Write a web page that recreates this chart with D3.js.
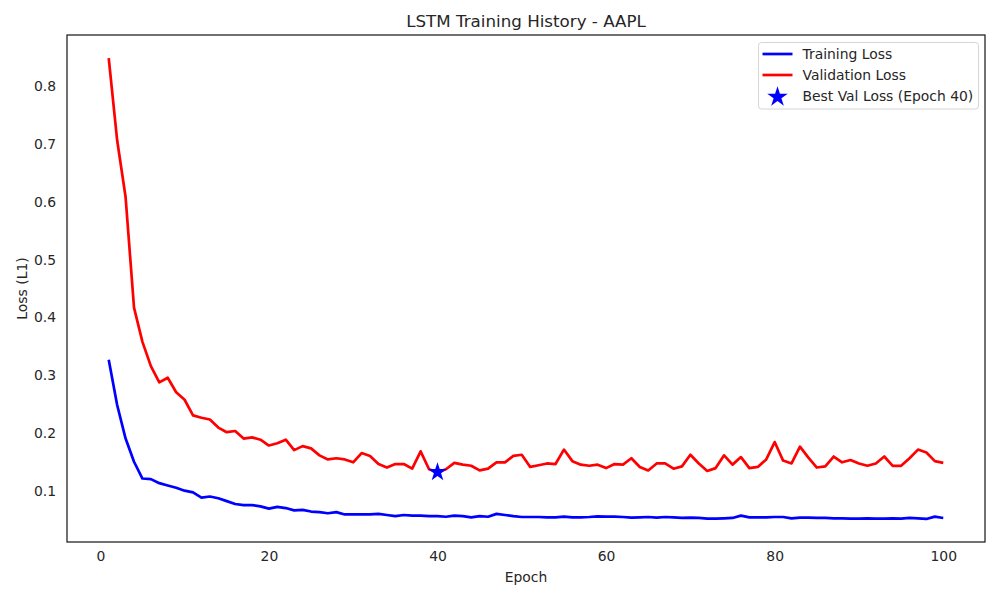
<!DOCTYPE html>
<html lang="en">
<head>
  <meta charset="UTF-8">
  <title>LSTM Training History - AAPL</title>
  <script src="https://d3js.org/d3.v7.min.js"></script>
  <style>
    body { margin: 0; background: #fff; font-family: "DejaVu Sans", sans-serif; }
    svg text { fill: #262626; }
    .tick text { font-size: 13.9px; font-family: "DejaVu Sans", sans-serif; }
    .axis .domain { display: none; }
  </style>
</head>
<body>
  <svg id="chart" width="1000" height="600"></svg>

  <script>
    const epochs = d3.range(1, 101);

    const trainLoss = [
      0.327, 0.249, 0.191, 0.151, 0.122, 0.121, 0.114, 0.110, 0.106, 0.101,
      0.098, 0.089, 0.091, 0.088, 0.083, 0.078, 0.076, 0.076, 0.074, 0.070,
      0.073, 0.071, 0.067, 0.068, 0.065, 0.064, 0.062, 0.064, 0.060, 0.060,
      0.060, 0.060, 0.061, 0.059, 0.057, 0.059, 0.058, 0.058, 0.057, 0.057,
      0.056, 0.058, 0.057, 0.055, 0.057, 0.056, 0.061, 0.059, 0.057, 0.0556,
      0.0556, 0.0556, 0.055, 0.055, 0.0562, 0.055, 0.055, 0.0556, 0.0568, 0.0562,
      0.0562, 0.0556, 0.0544, 0.055, 0.0556, 0.0544, 0.0556, 0.055, 0.0539, 0.0544,
      0.0539, 0.0527, 0.0527, 0.0533, 0.0539, 0.058, 0.055, 0.055, 0.055, 0.0556,
      0.0556, 0.0533, 0.0544, 0.0544, 0.0539, 0.0539, 0.0533, 0.0533, 0.0527, 0.0527,
      0.0533, 0.0527, 0.0527, 0.0533, 0.0527, 0.0539, 0.0533, 0.0522, 0.0562, 0.0539
    ];

    const valLoss = [
      0.848, 0.706, 0.608, 0.417, 0.358, 0.316, 0.288, 0.296, 0.271, 0.258,
      0.231, 0.227, 0.224, 0.210, 0.202, 0.204, 0.191, 0.193, 0.189, 0.179,
      0.183, 0.189, 0.171, 0.178, 0.174, 0.162, 0.155, 0.157, 0.155, 0.150,
      0.166, 0.161, 0.147, 0.141, 0.147, 0.147, 0.139, 0.169, 0.138, 0.133,
      0.138, 0.149, 0.146, 0.144, 0.136, 0.139, 0.150, 0.150, 0.161, 0.163,
      0.142, 0.145, 0.148, 0.147, 0.172, 0.152, 0.146, 0.144, 0.146, 0.140,
      0.147, 0.146, 0.157, 0.142, 0.136, 0.148, 0.148, 0.139, 0.143, 0.163,
      0.148, 0.135, 0.140, 0.162, 0.146, 0.159, 0.140, 0.142, 0.155, 0.185,
      0.153, 0.148, 0.177, 0.158, 0.141, 0.143, 0.160, 0.150, 0.154, 0.148,
      0.144, 0.148, 0.160, 0.144, 0.144, 0.157, 0.172, 0.167, 0.152, 0.149
    ];

    const xTicks = [0, 20, 40, 60, 80, 100];
    const yTicks = [0.1, 0.2, 0.3, 0.4, 0.5, 0.6, 0.7, 0.8];
    const legendLabels = ["Training Loss", "Validation Loss"];
    const bestLabel = "Best Val Loss (Epoch 40)";

    // best epoch = lowest validation loss
    const bestIdx = d3.minIndex(valLoss);
    const bestEpoch = epochs[bestIdx];

    const margin = { left: 67, right: 985, top: 35, bottom: 542 };
    const svg = d3.select("#chart");

    // matplotlib style 5% margins
    const xPad = (d3.max(epochs) - d3.min(epochs)) * 0.05;
    const allY = trainLoss.concat(valLoss);
    const yPad = (d3.max(allY) - d3.min(allY)) * 0.05;

    const x = d3.scaleLinear()
      .domain([d3.min(epochs) - xPad, d3.max(epochs) + xPad])
      .range([margin.left, margin.right]);
    const y = d3.scaleLinear()
      .domain([d3.min(allY) - yPad, d3.max(allY) + yPad])
      .range([margin.bottom, margin.top]);

    // axes (no tick marks, labels only)
    svg.append("g")
      .attr("class", "axis")
      .attr("transform", `translate(0,${margin.bottom})`)
      .call(d3.axisBottom(x).tickValues(xTicks).tickSize(0).tickPadding(9).tickFormat(d3.format("d")));

    svg.append("g")
      .attr("class", "axis")
      .attr("transform", `translate(${margin.left},0)`)
      .call(d3.axisLeft(y).tickValues(yTicks).tickSize(0).tickPadding(11).tickFormat(d3.format(".1f")));

    svg.selectAll(".tick text").style("fill", "#262626");

    // lines
    const line = (vals) => d3.line()
      .x((d, i) => x(epochs[i]))
      .y(d => y(d))(vals);

    svg.append("path")
      .attr("d", line(trainLoss))
      .attr("fill", "none")
      .attr("stroke", "#0000ff")
      .attr("stroke-width", 2.7)
      .attr("stroke-linejoin", "round");

    svg.append("path")
      .attr("d", line(valLoss))
      .attr("fill", "none")
      .attr("stroke", "#ff0000")
      .attr("stroke-width", 2.7)
      .attr("stroke-linejoin", "round");

    const star = d3.symbol().type(d3.symbolStar);

    svg.append("path")
      .attr("d", star.size(110)())
      .attr("transform", `translate(${x(bestEpoch)},${y(valLoss[bestIdx])})`)
      .attr("fill", "#0000ff");

    // frame
    svg.append("rect")
      .attr("x", margin.left)
      .attr("y", margin.top)
      .attr("width", margin.right - margin.left)
      .attr("height", margin.bottom - margin.top)
      .attr("fill", "none")
      .attr("stroke", "#262626")
      .attr("stroke-width", 1.3);

    // title + labels
    svg.append("text")
      .attr("x", (margin.left + margin.right) / 2)
      .attr("y", 27)
      .attr("text-anchor", "middle")
      .style("font-size", "16.7px")
      .text("LSTM Training History - AAPL");

    svg.append("text")
      .attr("x", (margin.left + margin.right) / 2)
      .attr("y", 582)
      .attr("text-anchor", "middle")
      .style("font-size", "13.9px")
      .text("Epoch");

    svg.append("text")
      .attr("transform", `translate(27,${(margin.top + margin.bottom) / 2}) rotate(-90)`)
      .attr("text-anchor", "middle")
      .style("font-size", "13.9px")
      .text("Loss (L1)");

    // legend
    const lg = svg.append("g").attr("transform", "translate(758.5,42.5)");
    lg.append("rect")
      .attr("width", 220)
      .attr("height", 66.5)
      .attr("rx", 3)
      .attr("fill", "#fff")
      .attr("fill-opacity", 0.8)
      .attr("stroke", "#d5d5d5")
      .attr("stroke-width", 1);

    const rows = [
      { label: legendLabels[0], color: "#0000ff", kind: "line" },
      { label: legendLabels[1], color: "#ff0000", kind: "line" },
      { label: bestLabel, color: "#0000ff", kind: "star" }
    ];

    rows.forEach((r, i) => {
      const cy = 11.5 + i * 21;
      if (r.kind === "line") {
        lg.append("line")
          .attr("x1", 4).attr("x2", 34)
          .attr("y1", cy).attr("y2", cy)
          .attr("stroke", r.color)
          .attr("stroke-width", 2.7);
      } else {
        lg.append("path")
          .attr("d", star.size(130)())
          .attr("transform", `translate(19,${cy + 1})`)
          .attr("fill", r.color);
      }
      lg.append("text")
        .attr("x", 44)
        .attr("y", cy)
        .attr("dy", "0.35em")
        .style("font-size", "13.9px")
        .text(r.label);
    });
  </script>
</body>
</html>
